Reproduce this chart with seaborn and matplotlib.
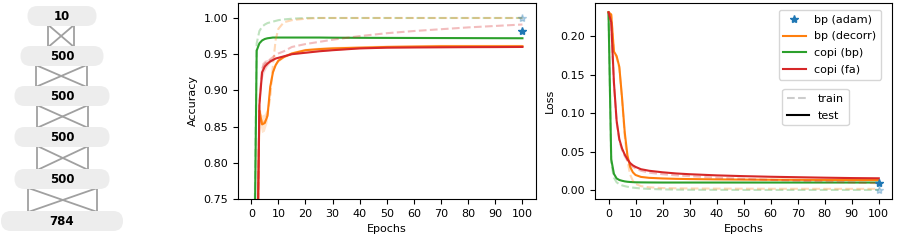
import numpy as np
import matplotlib
matplotlib.use("Agg")
import matplotlib.pyplot as plt
import seaborn as sns
from matplotlib.patches import FancyBboxPatch
from matplotlib.lines import Line2D

# network layer sizes, top to bottom
layer_sizes = ["10", "500", "500", "500", "500", "784"]

# epochs where values are read
epochs = [0, 1, 2, 3, 4, 5, 6, 7, 8, 9, 10, 12, 15, 20, 25, 30, 40, 50, 60, 70, 80, 90, 100]

# accuracy - test
acc_test_decorr = [0.10, 0.30, 0.60, 0.872, 0.853, 0.855, 0.865, 0.905, 0.925, 0.935, 0.941, 0.946, 0.951,
                   0.9555, 0.957, 0.958, 0.959, 0.960, 0.9605, 0.961, 0.961, 0.961, 0.961]
acc_test_copi_bp = [0.10, 0.60, 0.955, 0.965, 0.969, 0.971, 0.972, 0.9725, 0.973, 0.973, 0.973, 0.973, 0.973,
                    0.973, 0.973, 0.9728, 0.9726, 0.9725, 0.9724, 0.9723, 0.9722, 0.9721, 0.972]
acc_test_copi_fa = [0.10, 0.30, 0.60, 0.88, 0.925, 0.933, 0.937, 0.940, 0.942, 0.944, 0.945, 0.947, 0.950,
                    0.952, 0.954, 0.9555, 0.958, 0.959, 0.9593, 0.9595, 0.9597, 0.9598, 0.960]
# accuracy - train
acc_train_decorr = [0.10, 0.30, 0.60, 0.872, 0.855, 0.857, 0.868, 0.89, 0.935, 0.97, 0.985, 0.994, 0.997,
                    0.999, 1.0, 1.0, 1.0, 1.0, 1.0, 1.0, 1.0, 1.0, 1.0]
acc_train_copi_bp = [0.10, 0.65, 0.965, 0.982, 0.988, 0.991, 0.993, 0.994, 0.995, 0.996, 0.997, 0.998, 0.999,
                     1.0, 1.0, 1.0, 1.0, 1.0, 1.0, 1.0, 1.0, 1.0, 1.0]
acc_train_copi_fa = [0.10, 0.30, 0.60, 0.885, 0.930, 0.937, 0.940, 0.943, 0.946, 0.949, 0.951, 0.954, 0.960,
                     0.964, 0.967, 0.970, 0.975, 0.979, 0.982, 0.9845, 0.987, 0.989, 0.991]
# spread of the test accuracy over runs
acc_spread_decorr = [0.0, 0.0, 0.02, 0.012, 0.012, 0.012, 0.01, 0.006, 0.004, 0.003, 0.003, 0.002, 0.002,
                     0.002, 0.002, 0.002, 0.002, 0.002, 0.002, 0.002, 0.002, 0.002, 0.002]
acc_spread_copi_fa = [0.0, 0.0, 0.02, 0.015, 0.012, 0.008, 0.005, 0.003, 0.002, 0.001, 0.001, 0.001, 0.001,
                      0.001, 0.001, 0.001, 0.001, 0.001, 0.001, 0.001, 0.001, 0.001, 0.001]

# loss - test
loss_test_decorr = [0.231, 0.228, 0.180, 0.174, 0.160, 0.120, 0.075, 0.045, 0.030, 0.023, 0.0195, 0.017, 0.0158,
                    0.015, 0.0145, 0.0142, 0.0138, 0.0135, 0.0133, 0.0132, 0.0131, 0.013, 0.013]
loss_test_copi_bp = [0.231, 0.040, 0.021, 0.015, 0.013, 0.012, 0.0112, 0.0107, 0.0104, 0.0102, 0.0100, 0.0099,
                     0.0098, 0.0097, 0.0097, 0.0097, 0.0097, 0.0097, 0.0097, 0.0097, 0.0097, 0.0097, 0.0097]
loss_test_copi_fa = [0.231, 0.218, 0.140, 0.090, 0.066, 0.054, 0.046, 0.040, 0.035, 0.032, 0.030, 0.027, 0.025,
                     0.023, 0.0215, 0.0205, 0.019, 0.018, 0.0172, 0.0166, 0.016, 0.0155, 0.0152]
# loss - train
loss_train_decorr = [0.231, 0.228, 0.180, 0.172, 0.158, 0.118, 0.070, 0.038, 0.020, 0.012, 0.008, 0.005, 0.0035,
                     0.0025, 0.0022, 0.002, 0.0018, 0.0017, 0.0016, 0.0016, 0.0015, 0.0015, 0.0015]
loss_train_copi_bp = [0.231, 0.035, 0.016, 0.010, 0.0075, 0.006, 0.005, 0.0042, 0.0036, 0.0031, 0.0027, 0.002,
                      0.0014, 0.0008, 0.0005, 0.0003, 0.0002, 0.0001, 0.0001, 0.0001, 0.0001, 0.0001, 0.0001]
loss_train_copi_fa = [0.231, 0.216, 0.138, 0.088, 0.064, 0.052, 0.044, 0.038, 0.033, 0.030, 0.028, 0.025, 0.0225,
                      0.0205, 0.019, 0.018, 0.016, 0.0145, 0.0132, 0.012, 0.011, 0.0098, 0.0088]

# bp (adam) final values at epoch 100
adam_epoch = [100]
adam_acc_test = [0.9825]
adam_acc_train = [1.0]
adam_loss_test = [0.0095]
adam_loss_train = [0.0002]

plt.rcParams['font.size'] = 8
plt.rcParams['axes.linewidth'] = 0.8

C_ADAM = "#1f77b4"
C_DECORR = "#ff7f0e"
C_COPI_BP = "#2ca02c"
C_COPI_FA = "#d62728"
TRAIN_ALPHA = 0.3


def ag_ciz(ax):
    # box layout in pixel units
    box_y = [16, 56, 96, 137, 179, 221]
    box_w = [69, 83, 95, 95, 95, 122]
    box_h = 20
    cx = 62
    x_pairs = [(48.3, 74), (35.7, 86.7), (36.7, 88.3), (37.3, 88.3), (28.3, 97.3)]

    for i, (xl, xr) in enumerate(x_pairs):
        yt = box_y[i] + box_h / 2 - 1
        yb = box_y[i + 1] - box_h / 2 + 1
        kw = dict(color="#a0a0a0", lw=1.3, zorder=1)
        ax.plot([xl, xl], [yt, yb], **kw)
        ax.plot([xr, xr], [yt, yb], **kw)
        ax.plot([xl, xr], [yt, yb], **kw)
        ax.plot([xr, xl], [yt, yb], **kw)

    for lab, y, w in zip(layer_sizes, box_y, box_w):
        box = FancyBboxPatch((cx - w / 2, y - box_h / 2), w, box_h,
                             boxstyle="round,pad=0,rounding_size=10",
                             fc="#ededed", ec="none", zorder=2)
        ax.add_patch(box)
        ax.text(cx, y + 0.5, lab, ha="center", va="center", fontweight="bold",
                fontsize=8.5, zorder=3)

    ax.set_xlim(0, 140)
    ax.set_ylim(244, 0)
    ax.axis("off")


def seri_ciz(ax, train, test, color, spread=None):
    sns.lineplot(x=epochs, y=train, ax=ax, color=color, linestyle="--",
                 alpha=TRAIN_ALPHA, lw=1.5, errorbar=None)
    if spread is not None:
        lo = np.array(test) - np.array(spread)
        hi = np.array(test) + np.array(spread)
        ax.fill_between(epochs, lo, hi, color=color, alpha=0.2, lw=0)
    sns.lineplot(x=epochs, y=test, ax=ax, color=color, lw=1.5, errorbar=None)


def dogruluk_ciz(ax):
    seri_ciz(ax, acc_train_copi_bp, acc_test_copi_bp, C_COPI_BP)
    seri_ciz(ax, acc_train_decorr, acc_test_decorr, C_DECORR, acc_spread_decorr)
    seri_ciz(ax, acc_train_copi_fa, acc_test_copi_fa, C_COPI_FA, acc_spread_copi_fa)
    ax.plot(adam_epoch, adam_acc_train, "*", color=C_ADAM, alpha=TRAIN_ALPHA, ms=6)
    ax.plot(adam_epoch, adam_acc_test, "*", color=C_ADAM, ms=6)
    ax.set_ylim(0.75, 1.0207)
    ax.set_xlim(-5, 105)
    ax.set_xticks(range(0, 101, 10))
    ax.set_xlabel("Epochs")
    ax.set_ylabel("Accuracy")


def kayip_ciz(ax):
    seri_ciz(ax, loss_train_copi_bp, loss_test_copi_bp, C_COPI_BP)
    seri_ciz(ax, loss_train_decorr, loss_test_decorr, C_DECORR)
    seri_ciz(ax, loss_train_copi_fa, loss_test_copi_fa, C_COPI_FA)
    ax.plot(adam_epoch, adam_loss_train, "*", color=C_ADAM, alpha=TRAIN_ALPHA, ms=6)
    ax.plot(adam_epoch, adam_loss_test, "*", color=C_ADAM, ms=6)
    ax.set_ylim(-0.0117, 0.243)
    ax.set_xlim(-5, 105)
    ax.set_xticks(range(0, 101, 10))
    ax.set_xlabel("Epochs")
    ax.set_ylabel("Loss")

    h1 = [Line2D([], [], color=C_ADAM, marker="*", ls="none", ms=6),
          Line2D([], [], color=C_DECORR, lw=1.5),
          Line2D([], [], color=C_COPI_BP, lw=1.5),
          Line2D([], [], color=C_COPI_FA, lw=1.5)]
    leg1 = ax.legend(h1, ["bp (adam)", "bp (decorr)", "copi (bp)", "copi (fa)"],
                     loc="upper right", fontsize=8, labelspacing=0.62,
                     bbox_to_anchor=(0.962, 0.964), borderaxespad=0)
    ax.add_artist(leg1)
    h2 = [Line2D([], [], color="gray", ls="--", alpha=0.4, lw=1.5),
          Line2D([], [], color="black", lw=1.5)]
    ax.legend(h2, ["train", "test"], loc="upper right", fontsize=8, labelspacing=0.62,
              bbox_to_anchor=(0.853, 0.56), borderaxespad=0)


fig = plt.figure(figsize=(9, 2.44), dpi=100)
ax0 = fig.add_axes([0, 0, 140 / 900, 1])
ax1 = fig.add_axes([237.7 / 900, 45 / 244, 298.3 / 900, 196 / 244])
ax2 = fig.add_axes([595 / 900, 45 / 244, 297.3 / 900, 196 / 244])

ag_ciz(ax0)
dogruluk_ciz(ax1)
kayip_ciz(ax2)

fig.savefig("out.png", dpi=100)
